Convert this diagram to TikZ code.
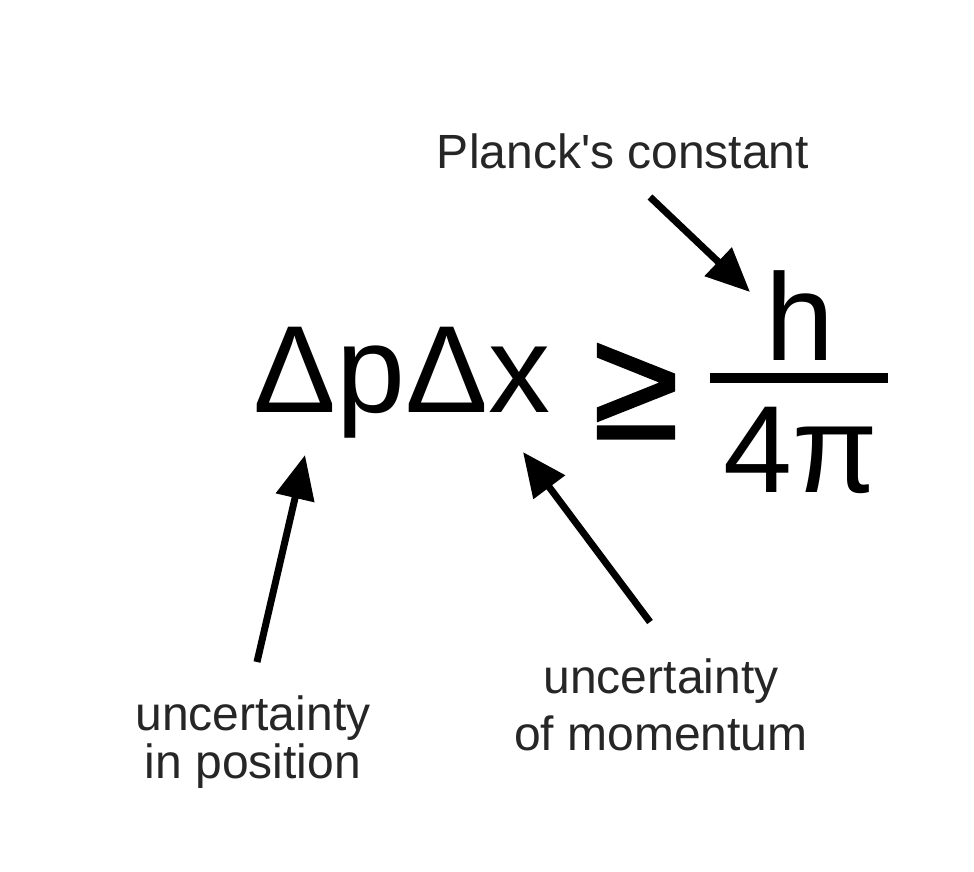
\documentclass[tikz,border=0pt]{standalone}
\usepackage{fontspec}
\setmainfont{Liberation Sans}
\newfontfamily\geqfont[FakeBold=2]{Liberation Sans}
\usetikzlibrary{arrows.meta}
\begin{document}
\begin{tikzpicture}[x=1pt,y=-1pt,
  lbl/.style={inner sep=0pt, anchor=base, text=black!85},
  eqtext/.style={inner sep=0pt, anchor=base, font=\fontsize{124}{124}\selectfont},
  arr/.style={line width=7pt, -{Triangle[length=44pt,width=38pt]}}]
\useasboundingbox[fill=white] (0,0) rectangle (974,872);
% equation
\node[eqtext] (lhs) at (402,412) {ΔpΔx};
\node[inner sep=0pt, anchor=base, font=\geqfont\fontsize{155}{155}\selectfont] (geq) at (636,438) {≥};
\node[eqtext] (num) at (800,360) {h};
\node[eqtext] (den) at (801,492) {4π};
\coordinate (barL) at (710,378);
\coordinate (barR) at (888,378);
\draw[line width=10pt] (barL) -- (barR);
% labels
\node[lbl, font=\fontsize{48}{48}\selectfont] (planck) at (623,168) {Planck\textquotesingle s constant};
\node[lbl, font=\fontsize{48}{47}\selectfont] (pos) at (253,730)
  {\begin{tabular}[t]{@{}c@{}}uncertainty\\in position\end{tabular}};
\node[lbl, font=\fontsize{48}{57}\selectfont] (mom) at (661,693)
  {\begin{tabular}[t]{@{}c@{}}uncertainty\\of momentum\end{tabular}};
% arrow ends
\coordinate (tailP) at (650,197);
\coordinate (tipP) at (750,292);
\coordinate (tailL) at (257,662);
\coordinate (tipL) at (305,455);
\coordinate (tailM) at (650,622);
\coordinate (tipM) at (523,452);
\draw[arr] (tailP) -- (tipP);
\draw[arr] (tailL) -- (tipL);
\draw[arr] (tailM) -- (tipM);
\end{tikzpicture}
\end{document}
